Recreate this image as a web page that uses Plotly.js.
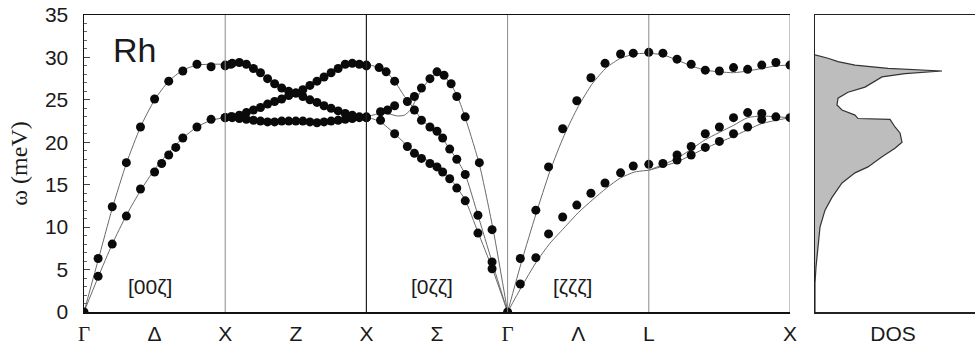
<!DOCTYPE html>
<html><head><meta charset="utf-8">
<script src="https://cdn.plot.ly/plotly-3.0.1.min.js"></script>
<style>html,body{margin:0;padding:0;background:#fff}</style>
</head><body><div id="chart" style="width:975px;height:349px"></div>
<script>
// ---- high-symmetry path ----
const kTickPos = [0, 0.5, 1, 1.5, 2, 2.5, 3, 3.5, 4, 5];
const kTickLabels = ['Γ', 'Δ', 'X', 'Z', 'X', 'Σ', 'Γ', 'Λ', 'L', 'X'];
const symLinesGray = [1, 3, 4, 5];
const symLinesDark = [2];

// ---- measured points (q in path units, omega in meV) ----
// Γ–X [00ζ]
const gxL_q = [0, 0.1, 0.2, 0.3, 0.4, 0.5, 0.6, 0.7, 0.8, 0.9, 1.0, 1.04];
const gxL_w = [0, 6.3, 12.4, 17.6, 21.8, 25.1, 27.2, 28.4, 29.2, 28.9, 29.0, 29.2];
const gxT_q = [0.1, 0.2, 0.3, 0.4, 0.5, 0.55, 0.6, 0.65, 0.7, 0.8, 0.9, 1.0, 1.04];
const gxT_w = [4.2, 8.0, 11.3, 14.5, 16.5, 17.5, 18.5, 19.4, 20.5, 21.8, 22.7, 22.9, 23.0];
// X–W–X (Z)
const z_q  = [1.0, 1.05, 1.1, 1.15, 1.2, 1.25, 1.3, 1.35, 1.4, 1.45, 1.5, 1.55, 1.6, 1.65, 1.7, 1.75, 1.8, 1.85, 1.9, 1.95, 2.0];
const zA_w = [29.1, 29.3, 29.4, 29.2, 28.7, 28.2, 27.5, 26.9, 26.4, 26.0, 25.8, 25.4, 25.0, 24.7, 24.3, 24.0, 23.7, 23.4, 23.2, 23.0, 23.0];
const zB_w = [22.9, 23.0, 23.2, 23.5, 23.8, 24.1, 24.5, 24.8, 25.1, 25.5, 25.8, 26.2, 26.7, 27.2, 27.7, 28.2, 28.7, 29.2, 29.3, 29.2, 29.1];
const zC_w = [22.9, 22.9, 22.8, 22.7, 22.6, 22.5, 22.4, 22.4, 22.5, 22.5, 22.5, 22.5, 22.4, 22.3, 22.4, 22.5, 22.6, 22.7, 22.8, 22.9, 22.9];
// X–Γ [0ζζ]
const sgU_q = [2.0, 2.09, 2.14, 2.2];
const sgU_w = [29.0, 28.8, 28.3, 27.2];
const sgS_q = [2.1, 2.15, 2.2];
const sgS_w = [23.6, 23.8, 24.3];
const sgH_q = [2.29, 2.34, 2.39, 2.45, 2.5, 2.55, 2.6, 2.64, 2.7, 2.8, 2.89];
const sgH_w = [24.8, 25.4, 26.4, 27.5, 28.3, 27.9, 26.9, 25.4, 23.0, 17.6, 9.7];
const sgM_q = [2.34, 2.39, 2.45, 2.5, 2.54, 2.59, 2.64, 2.7, 2.79, 2.89];
const sgM_w = [23.8, 22.6, 21.8, 21.3, 20.5, 19.2, 18.0, 16.2, 11.4, 5.9];
const sgL_q = [2.0, 2.1, 2.2, 2.29, 2.34, 2.39, 2.45, 2.5, 2.54, 2.59, 2.64, 2.7, 2.79, 2.89, 3.0];
const sgL_w = [22.9, 22.6, 21.0, 19.5, 18.7, 18.1, 17.5, 17.1, 16.5, 15.7, 14.6, 13.1, 9.3, 5.1, 0];
// Γ–L [ζζζ]
const gl_q  = [3.09, 3.2, 3.29, 3.39, 3.49, 3.59, 3.69, 3.8, 3.89, 4.0];
const glL_w = [6.3, 12.0, 17.1, 21.6, 24.9, 27.6, 29.3, 30.4, 30.5, 30.6];
const glT_w = [3.3, 6.4, 9.2, 11.2, 12.6, 14.0, 15.2, 16.4, 17.2, 17.4];
// L–X
const lx_q  = [4.1, 4.2, 4.3, 4.4, 4.5, 4.6, 4.7, 4.8, 4.9, 5.0];
const lxU_w = [30.5, 29.8, 29.2, 28.5, 28.4, 28.8, 28.6, 29.1, 29.4, 29.1];
const lxM_w = [17.5, 18.5, 19.5, 21.0, 21.8, 22.9, 23.5, 23.4, 23.0, 22.9];
const lxB_q = [4.2, 4.3, 4.4, 4.5, 4.6, 4.7, 4.8];
const lxB_w = [17.9, 18.5, 19.4, 20.1, 21.0, 21.8, 22.7];

// ---- model curves ----
const gxc_q  = [0, 0.1, 0.2, 0.3, 0.4, 0.5, 0.6, 0.7, 0.8, 0.9, 1.0];
const gxLc_w = [0, 6.1, 12.2, 17.5, 21.8, 25.0, 27.2, 28.5, 29.1, 29.2, 29.2];
const gxTc_w = [0, 4.1, 8.0, 11.4, 14.3, 16.8, 18.8, 20.5, 21.8, 22.6, 22.9];
const zc_q   = [1.0, 1.1, 1.2, 1.3, 1.4, 1.5, 1.6, 1.7, 1.8, 1.9, 2.0];
const zAc_w  = [29.2, 29.3, 28.7, 27.5, 26.4, 25.8, 25.0, 24.3, 23.7, 23.2, 23.0];
const zBc_w  = [23.0, 23.2, 23.8, 24.5, 25.1, 25.8, 26.7, 27.7, 28.7, 29.3, 29.2];
const zCc_w  = [23.0, 22.8, 22.6, 22.4, 22.5, 22.5, 22.4, 22.4, 22.6, 22.8, 23.0];
const sgC1_q = [2.0, 2.09, 2.14, 2.2, 2.27, 2.34, 2.39, 2.45, 2.5, 2.54, 2.59, 2.64, 2.7, 2.79, 2.89, 3.0];
const sgC1_w = [29.2, 28.8, 28.3, 27.2, 25.4, 23.9, 22.7, 21.8, 21.2, 20.4, 19.2, 18.0, 16.2, 11.4, 5.9, 0];
const sgC2_q = [2.0, 2.1, 2.17, 2.22, 2.27, 2.31, 2.35, 2.4, 2.45, 2.5, 2.55, 2.6, 2.65, 2.7, 2.8, 2.9, 3.0];
const sgC2_w = [23.0, 23.4, 23.3, 23.1, 23.2, 23.8, 25.0, 26.4, 27.5, 28.1, 27.8, 26.8, 25.2, 22.9, 17.4, 9.5, 0];
const sgC3_q = [2.0, 2.1, 2.2, 2.29, 2.34, 2.39, 2.45, 2.5, 2.54, 2.59, 2.64, 2.7, 2.79, 2.89, 3.0];
const sgC3_w = [23.0, 22.4, 21.0, 19.6, 18.9, 18.3, 17.7, 17.2, 16.6, 15.8, 14.7, 13.2, 9.4, 5.2, 0];
const glc_q  = [3.0, 3.1, 3.2, 3.3, 3.4, 3.5, 3.6, 3.7, 3.8, 3.9, 4.0];
const glLc_w = [0, 6.0, 11.5, 16.6, 20.8, 24.2, 26.9, 28.8, 29.9, 30.4, 30.5];
const glTc_w = [0, 3.0, 5.8, 8.1, 9.9, 11.7, 13.2, 14.6, 15.8, 16.5, 16.7];
const lxc_q  = [4.0, 4.1, 4.2, 4.3, 4.4, 4.5, 4.6, 4.7, 4.8, 4.9, 5.0];
const lxUc_w = [30.5, 30.3, 29.7, 29.0, 28.5, 28.3, 28.2, 28.4, 28.7, 29.0, 29.1];
const lxMc_q = [4.0, 4.2, 4.4, 4.6, 4.7, 4.8, 4.9, 5.0];
const lxMc_w = [16.7, 18.1, 20.3, 22.0, 22.9, 23.1, 23.0, 22.9];
const lxBc_q = [4.0, 4.2, 4.4, 4.6, 4.8, 5.0];
const lxBc_w = [16.7, 17.7, 19.3, 20.7, 22.2, 22.9];

// ---- density of states ----
const dos_w = [0, 3.4, 5.3, 7.7, 10.0, 12.0, 13.5, 15.2, 16.4, 17.1, 18.3, 19.3, 20.0, 21.1, 21.8, 22.7, 22.8, 23.2, 23.8, 24.4, 25.2, 25.9, 26.5, 27.7, 28.1, 28.4, 28.7, 29.1, 29.5, 29.9, 30.3];
const dos_v = [0, 0, 1, 3, 5, 10, 17, 27, 40, 53, 67, 80, 87, 85, 80, 75, 43, 40, 27, 22, 23, 33, 50, 67, 90, 127, 73, 40, 23, 13, 0];

// ---- labels ----
const elementLabel = 'Rh';
const dirLabels = ['[00ζ]', '[0ζζ]', '[ζζζ]'];
const dirLabelQ = [0.467, 2.468, 3.463];
const dosLabel = 'DOS';
const yTitle = 'ω (meV)';

const SANS = 'Liberation Sans, Arial, sans-serif';
const SERIF = 'Liberation Serif, Times New Roman, serif';
const TXT = '#1a1a1a';

const curves = [
  [gxc_q, gxLc_w], [gxc_q, gxTc_w],
  [zc_q, zAc_w], [zc_q, zBc_w], [zc_q, zCc_w],
  [sgC1_q, sgC1_w], [sgC2_q, sgC2_w], [sgC3_q, sgC3_w],
  [glc_q, glLc_w], [glc_q, glTc_w],
  [lxc_q, lxUc_w], [lxMc_q, lxMc_w], [lxBc_q, lxBc_w]
];
const points = [
  [gxL_q, gxL_w], [gxT_q, gxT_w],
  [z_q, zA_w], [z_q, zB_w], [z_q, zC_w],
  [sgU_q, sgU_w], [sgS_q, sgS_w], [sgH_q, sgH_w], [sgM_q, sgM_w], [sgL_q, sgL_w],
  [gl_q, glL_w], [gl_q, glT_w],
  [lx_q, lxU_w], [lx_q, lxM_w], [lxB_q, lxB_w]
];

const traces = [];
curves.forEach(c => traces.push({
  x: c[0], y: c[1], type: 'scatter', mode: 'lines', xaxis: 'x', yaxis: 'y',
  line: {color: '#6a6a6a', width: 1, shape: 'spline', smoothing: 0.6},
  hoverinfo: 'skip', showlegend: false
}));
points.forEach(p => traces.push({
  x: p[0], y: p[1], type: 'scatter', mode: 'markers', xaxis: 'x', yaxis: 'y',
  marker: {color: '#0a0a0a', size: 9, line: {width: 0}},
  showlegend: false
}));
traces.push({
  x: dos_v, y: dos_w, type: 'scatter', mode: 'lines', xaxis: 'x2', yaxis: 'y2',
  fill: 'tozerox', fillcolor: '#bdbdbd',
  line: {color: '#333', width: 1.2}, showlegend: false
});

const shapes = [];
symLinesGray.forEach(q => shapes.push({type: 'line', xref: 'x', yref: 'y', x0: q, x1: q, y0: 0, y1: 35,
  line: {color: '#8a8a8a', width: 1}}));
symLinesDark.forEach(q => shapes.push({type: 'line', xref: 'x', yref: 'y', x0: q, x1: q, y0: 0, y1: 35,
  line: {color: '#222', width: 1.2}}));

const annotations = [
  {text: elementLabel, x: 0.36, y: 30.9, xref: 'x', yref: 'y', showarrow: false,
   font: {family: SANS, size: 34, color: TXT}}
];
dirLabels.forEach((t, i) => annotations.push({text: t, x: dirLabelQ[i], y: 3.0, xref: 'x', yref: 'y',
  showarrow: false, font: {family: SANS, size: 21, color: TXT}}));

const tickText = kTickLabels.map(s => s === 'Γ'
  ? '<span style="font-family:Liberation Serif">' + s + '</span>' : s);

const layout = {
  width: 975, height: 349,
  margin: {l: 84, r: 0, t: 15, b: 37},
  paper_bgcolor: '#fff', plot_bgcolor: '#fff',
  showlegend: false,
  xaxis: {
    domain: [0, 0.79237], range: [0, 5],
    tickmode: 'array', tickvals: kTickPos, ticktext: tickText,
    ticks: '', showgrid: false, zeroline: false,
    showline: true, mirror: true, linecolor: '#111', linewidth: 1.5,
    tickfont: {family: SANS, size: 21, color: TXT}, ticklabelstandoff: 2
  },
  yaxis: {
    range: [0, 35], tickvals: [0, 5, 10, 15, 20, 25, 30, 35],
    ticks: 'inside', ticklen: 6, tickcolor: '#444',
    minor: {dtick: 1, ticks: 'inside', ticklen: 3, tickcolor: '#666', showgrid: false},
    showgrid: false, zeroline: false,
    showline: true, linecolor: '#111', linewidth: 1.5,
    tickfont: {family: SANS, size: 21, color: TXT}, ticklabelstandoff: 10,
    title: {text: yTitle, font: {family: SERIF, size: 24, color: TXT}, standoff: 10}
  },
  xaxis2: {
    domain: [0.82043, 1], range: [0, 160], anchor: 'y2',
    tickmode: 'array', tickvals: [78], ticktext: [dosLabel], ticks: '',
    showgrid: false, zeroline: false,
    showline: true, mirror: true, linecolor: '#222', linewidth: 1.5,
    tickfont: {family: SANS, size: 21, color: TXT}, ticklabelstandoff: 2
  },
  yaxis2: {
    anchor: 'x2', range: [0, 35], showticklabels: false, ticks: '',
    showgrid: false, zeroline: false,
    showline: true, mirror: false, linecolor: '#222', linewidth: 1.5
  },
  shapes: shapes,
  annotations: annotations
};

Plotly.newPlot('chart', traces, layout, {displayModeBar: false, staticPlot: true});
</script>
</body></html>
